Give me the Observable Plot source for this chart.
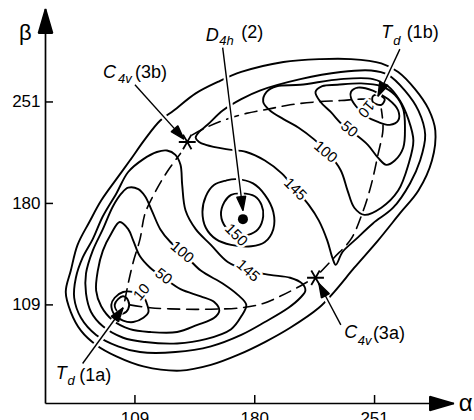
<!DOCTYPE html>
<html>
<head>
<meta charset="utf-8">
<script src="https://cdn.jsdelivr.net/npm/d3@7"></script>
<script src="https://cdn.jsdelivr.net/npm/@observablehq/plot@0.6"></script>
<style>
  html, body { margin: 0; padding: 0; background: #fff; }
</style>
</head>
<body>
<div id="chart"></div>
<script>
// ---- axis ticks ----
const xTicks = [109, 180, 251];
const yTicks = [109, 180, 251];

// ---- solid contour lines, [alpha, beta] ----
const outerRing = [[124,238],[132,245],[145,257],[158,265],[172,272],[197,279],[219,281],[237,281],[255,278],[265,272],[275,260],[283,246],[287,231],[285,210],[277,189],[266,173],[253,154],[239,135],[227,118],[218,107],[201,93],[186,83],[170,74],[154,67],[136,63],[114,66],[98,73],[86,81],[77,91],[71,104],[68,118],[71,133],[75,151],[82,167],[89,182],[98,197],[106,210],[115,225]];
const lobeA145 = [[128,217],[133,214],[136,207],[137,193],[139,175],[145,162],[154,151],[164,139],[176,133],[189,130],[201,128],[208,124],[210,119],[207,114],[200,107],[186,97],[172,88],[154,80],[133,76],[112,76],[99,80],[86,88],[77,100],[73,114],[74,128],[78,142],[84,155],[90,171],[98,187],[105,202],[114,211],[122,216]];
const lobeA100 = [[105,191],[111,190],[115,185],[119,175],[124,162],[130,153],[137,146],[148,133],[161,124],[170,116],[175,109],[172,101],[166,92],[151,85],[134,82],[115,83],[102,86],[90,94],[83,104],[80,117],[80,131],[84,147],[90,162],[96,178],[101,187]];
const lobeA50 = [[100,167],[105,162],[108,154],[112,143],[118,135],[126,128],[136,120],[148,115],[156,111],[159,105],[156,100],[146,95],[134,90],[118,90],[106,92],[96,98],[89,108],[86,119],[87,133],[90,147],[95,159]];
const lobeA10 = [[102,118],[97,114],[95,109],[97,102],[102,98],[108,97],[114,100],[117,104],[116,110],[114,115],[108,118]];
const lobeAcore = [[102,115],[99,113],[97,109],[99,104],[102,103],[105,106],[105,112]];
const lobeB145 = [[145,226],[147,230],[152,235],[161,245],[172,253],[183,259],[207,267],[231,272],[249,273],[259,270],[269,259],[277,245],[281,228],[278,210],[272,194],[262,177],[250,166],[240,155],[232,146],[228,137],[226,142],[223,154],[218,168],[212,179],[204,190],[196,201],[186,210],[175,216],[163,218],[151,221],[147,223]];
const lobeB100 = [[185,251],[187,258],[193,262],[207,263],[231,267],[250,267],[259,262],[266,252],[271,239],[274,224],[271,207],[265,189],[255,177],[245,172],[239,177],[235,189],[231,203],[223,216],[215,225],[206,233],[197,239],[189,245]];
const lobeB50 = [[216,258],[220,262],[229,263],[243,264],[255,262],[263,256],[268,246],[269,233],[268,219],[263,210],[258,207],[253,212],[247,221],[240,228],[232,235],[225,244],[219,251]];
const lobeB10 = [[237,258],[241,261],[250,259],[259,253],[265,245],[265,238],[260,235],[253,237],[246,241],[240,248],[237,254]];
const lobeBcore = [[250,255],[253,256],[257,253],[255,249],[250,251]];
const centreInner = [[172,187],[180,185],[184,179],[185,171],[182,162],[176,158],[169,158],[163,163],[160,172],[162,181],[166,186]];
const centreOuter = [[169,197],[179,194],[186,186],[191,174],[191,162],[186,153],[178,150],[166,151],[157,155],[151,163],[149,174],[151,185],[156,193],[163,196]];

// ---- dashed reaction paths ----
const pathA3a = [[106,109],[118,107],[136,106],[154,106],[172,107],[185,110],[195,115],[205,121],[214,127]];
const path3aB = [[219,132],[227,142],[237,155],[244,174],[249,193],[253,214],[256,232],[255,246]];
const pathA3b = [[103,112],[105,124],[108,139],[112,155],[115,173],[121,188],[128,202],[136,215]];
const path3bB = [[143,228],[151,233],[161,238],[175,243],[188,246],[201,249],[216,251],[231,252],[243,253],[251,253]];

// ---- contour level labels ----
const levelText = ["10", "50", "100", "145", "150", "145", "100", "50", "10"];
const levelAlpha = [113, 126, 137, 176, 169, 204, 222, 236, 246];
const levelBeta = [118, 129, 146, 133, 158, 190, 216, 232, 246];
const levelAngle = [-50, 38, 40, 42, 45, 45, 40, 40, 130];

// ---- stationary points ----
const saddleAlpha = [216, 140];
const saddleBeta = [128, 223];
const peakAlpha = [173];
const peakBeta = [169];

// ---- callouts: symbol, subscript, tail ----
const calloutMain = ["C", "D", "T", "C", "T"];
const calloutSub = ["4v", "4h", "d", "4v", "d"];
const calloutTail = ["(3b)", "(2)", "(1b)", "(3a)", "(1a)"];
const mainPos = [[90,272],[151,298],[255,300],[233,90],[62,61]];
const subPos = [[99,267],[159,294],[262,294],[241,84],[69,56]];
const tailPos = [[109,272],[172,300],[270,300],[250,89],[76,60]];
const calloutFrom = [[109,263],[161,289],[266,288],[231,95],[78,68]];
const calloutTo = [[138,225],[173,175],[253,255],[218,124],[102,107]];

// ---- axes (alpha to the right, beta upward) ----
const axisFrom = [[56,40],[56,40]];
const axisTo = [[298,40],[56,316]];

// ---- build tables ----
const closedSet = {outerRing, lobeA145, lobeA100, lobeA50, lobeA10, lobeAcore,
  lobeB145, lobeB100, lobeB50, lobeB10, lobeBcore, centreInner, centreOuter};
const dashedSet = {pathA3a, path3aB, pathA3b, path3bB};
const toRows = set => Object.entries(set).flatMap(([id, pts]) => pts.map(([a, b]) => ({id, a, b})));
const closedRows = toRows(closedSet);
const dashedRows = toRows(dashedSet);
const levelRows = levelText.map((t, i) => ({t, a: levelAlpha[i], b: levelBeta[i], r: levelAngle[i]}));
const saddles = saddleAlpha.map((a, i) => ({a, b: saddleBeta[i]}));
const peaks = peakAlpha.map((a, i) => ({a, b: peakBeta[i]}));
const callouts = calloutFrom.map((f, i) => ({a1: f[0], b1: f[1], a2: calloutTo[i][0], b2: calloutTo[i][1]}));
const axes = axisFrom.map((f, i) => ({a1: f[0], b1: f[1], a2: axisTo[i][0], b2: axisTo[i][1]}));
const rowsOf = (texts, pos) => texts.map((t, i) => ({t, a: pos[i][0], b: pos[i][1]}));

// filled arrowheads drawn at the (x2, y2) end of a link
function arrowHead(len, half) {
  return function (index, scales, values, dimensions, context, next) {
    const g = next(index, scales, values, dimensions, context);
    const {x1, y1, x2, y2} = values;
    for (const i of index) {
      const dx = x2[i] - x1[i], dy = y2[i] - y1[i];
      const L = Math.hypot(dx, dy) || 1;
      const ux = dx / L, uy = dy / L;
      const bx = x2[i] - ux * len, by = y2[i] - uy * len;
      const pts = [[x2[i], y2[i]], [bx - uy * half, by + ux * half], [bx + uy * half, by - ux * half]];
      const p = document.createElementNS("http://www.w3.org/2000/svg", "polygon");
      p.setAttribute("points", pts.map(d => d.join(",")).join(" "));
      p.setAttribute("fill", "black");
      g.appendChild(p);
    }
    return g;
  };
}

const font = "'Liberation Sans', Arial, Helvetica, sans-serif";

const chart = Plot.plot({
  width: 474,
  height: 420,
  marginLeft: 45,
  marginRight: 24,
  marginTop: 10,
  marginBottom: 17,
  x: {domain: [56, 296], axis: null},
  y: {domain: [40, 315], axis: null},
  style: {fontFamily: font, background: "white", overflow: "visible"},
  marks: [
    Plot.line(closedRows, {x: "a", y: "b", z: "id", curve: "catmull-rom-closed", stroke: "black", strokeWidth: 1.9}),
    Plot.line(dashedRows, {x: "a", y: "b", z: "id", curve: "catmull-rom", stroke: "black", strokeWidth: 1.6, strokeDasharray: "12,7"}),
    Plot.link(callouts, {x1: "a1", y1: "b1", x2: "a2", y2: "b2", stroke: "white", strokeWidth: 6, insetEnd: 12}),
    Plot.link(callouts, {x1: "a1", y1: "b1", x2: "a2", y2: "b2", stroke: "black", strokeWidth: 1.4, render: arrowHead(14, 4.5)}),
    Plot.text(levelRows, {x: "a", y: "b", text: "t", rotate: "r", fontSize: 15, fill: "black", stroke: "white", strokeWidth: 5, paintOrder: "stroke"}),
    Plot.dot(saddles, {x: "a", y: "b", symbol: "asterisk", r: 8, stroke: "black", strokeWidth: 1.8, rotate: 30}),
    Plot.dot(peaks, {x: "a", y: "b", r: 5, fill: "black"}),
    Plot.link(axes, {x1: "a1", y1: "b1", x2: "a2", y2: "b2", stroke: "black", strokeWidth: 1.7, render: arrowHead(24, 7)}),
    Plot.ruleX(xTicks, {x: d => d, insetTop: 385, stroke: "black", strokeWidth: 1.5}),
    Plot.ruleY(yTicks, {y: d => d, insetRight: 397, stroke: "black", strokeWidth: 1.5}),
    Plot.text(xTicks, {x: d => d, y: 40, dy: 15, text: d => String(d), fontSize: 17}),
    Plot.text(yTicks, {x: 56, y: d => d, dx: -5, text: d => String(d), textAnchor: "end", fontSize: 17}),
    Plot.text(["β"], {x: 44, y: 299, text: d => d, fontSize: 22}),
    Plot.text(["α"], {x: 305, y: 40, text: d => d, fontSize: 24}),
    Plot.text(rowsOf(calloutMain, mainPos), {x: "a", y: "b", text: "t", textAnchor: "start", fontStyle: "italic", fontSize: 18}),
    Plot.text(rowsOf(calloutSub, subPos), {x: "a", y: "b", text: "t", textAnchor: "start", fontStyle: "italic", fontSize: 13}),
    Plot.text(rowsOf(calloutTail, tailPos), {x: "a", y: "b", text: "t", textAnchor: "start", fontSize: 18})
  ]
});
document.getElementById("chart").appendChild(chart);
</script>
</body>
</html>
